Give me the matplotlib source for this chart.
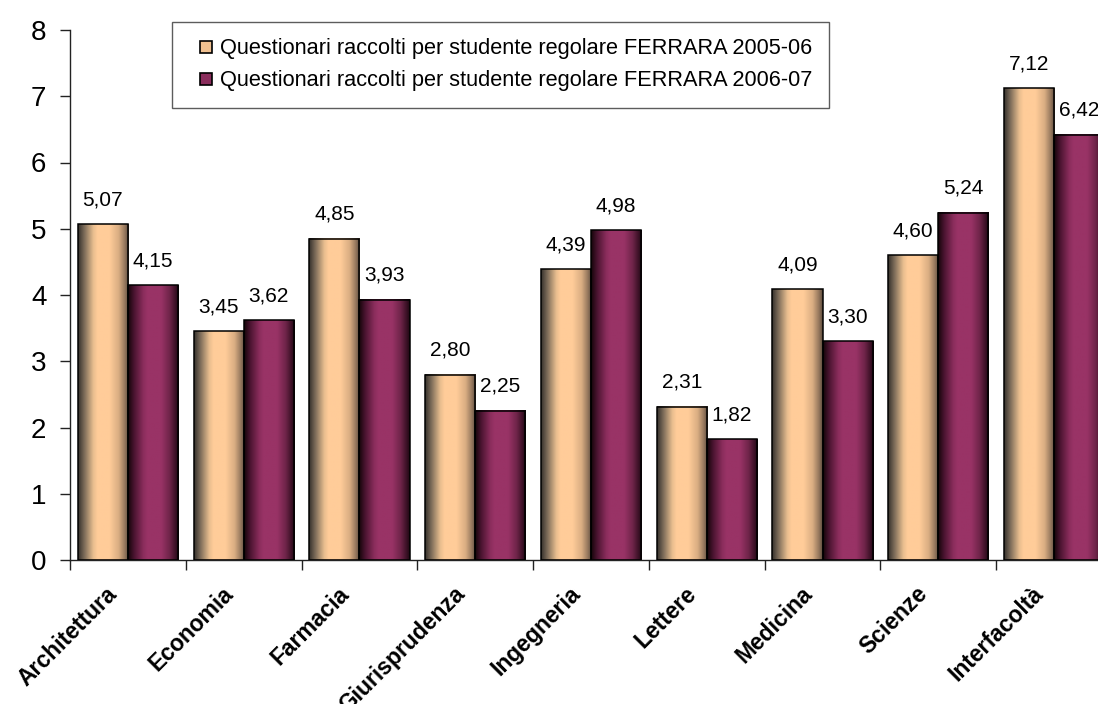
import numpy as np
import matplotlib.pyplot as plt
from matplotlib.colors import LinearSegmentedColormap
from matplotlib.patches import Rectangle, Patch
from matplotlib.legend_handler import HandlerPatch
import matplotlib.transforms as mtransforms

plt.rcParams['font.family'] = ['Liberation Sans', 'DejaVu Sans']

categories = ["Architettura", "Economia", "Farmacia", "Giurisprudenza", "Ingegneria",
              "Lettere", "Medicina", "Scienze", "Interfacoltà"]
values_0506 = [5.07, 3.45, 4.85, 2.80, 4.39, 2.31, 4.09, 4.60, 7.12]
values_0607 = [4.15, 3.62, 3.93, 2.25, 4.98, 1.82, 3.30, 5.24, 6.42]
series_labels = ["Questionari raccolti per studente regolare FERRARA 2005-06",
                 "Questionari raccolti per studente regolare FERRARA 2006-07"]

# horizontal shading of the bars: dark edges, light middle
cmap_orange = LinearSegmentedColormap.from_list("or", [
    (0.0, "#34302b"), (0.12, "#7a6a58"), (0.3, "#e8bd8e"), (0.38, "#ffcc99"),
    (0.62, "#ffcc99"), (0.8, "#d9ad82"), (0.92, "#96785e"), (1.0, "#5a4a3c")])
cmap_purple = LinearSegmentedColormap.from_list("pu", [
    (0.0, "#140509"), (0.12, "#4a1430"), (0.3, "#8a2d5c"), (0.38, "#993366"),
    (0.65, "#993366"), (0.82, "#6e2449"), (0.93, "#3e1228"), (1.0, "#1e0812")])

fig = plt.figure(figsize=(10.98, 7.04), dpi=100)
ax = fig.add_axes([70 / 1098, 144 / 704, (1112 - 70) / 1098, (560 - 30) / 704])

x = np.arange(len(categories))
w = 0.433
grad = np.linspace(0, 1, 256).reshape(1, -1)
lab_off = mtransforms.offset_copy(ax.transData, fig=fig, x=0, y=19, units='dots')


def draw_bars(xs, vals, cmap):
    for xi, v in zip(xs, vals):
        ax.imshow(grad, cmap=cmap, extent=[xi - w / 2, xi + w / 2, 0, v],
                  aspect='auto', zorder=2, interpolation='bilinear')
        ax.add_patch(Rectangle((xi - w / 2, 0), w, v, fill=False,
                               edgecolor='black', linewidth=1.1, zorder=3))
        ax.text(xi, v, f"{v:.2f}".replace('.', ','), transform=lab_off,
                ha='center', va='baseline', fontsize=15, zorder=4)


draw_bars(x - w / 2, values_0506, cmap_orange)
draw_bars(x + w / 2, values_0607, cmap_purple)

ax.set_xlim(-0.5, len(categories) - 0.5)
ax.set_ylim(0, 8)

for s in ['top', 'right']:
    ax.spines[s].set_visible(False)
for s in ['left', 'bottom']:
    ax.spines[s].set_color('#222222')
    ax.spines[s].set_linewidth(1.0)

ax.set_yticks(range(0, 9))
ax.set_yticklabels([str(i) for i in range(0, 9)], fontsize=20)
ax.tick_params(axis='y', length=7, width=1, color='#222222', pad=10)

ax.set_xticks(np.arange(-0.5, len(categories), 1.0), minor=True)
ax.set_xticks(x)
ax.set_xticklabels(categories, fontsize=16.5, fontweight='bold', rotation=45,
                   ha='right', va='center', rotation_mode='anchor')
ax.tick_params(axis='x', which='major', length=0, pad=22)
ax.tick_params(axis='x', which='minor', length=7, width=1, color='#222222')
shift = mtransforms.ScaledTranslation(-14 / 100, 0, fig.dpi_scale_trans)
for lbl in ax.get_xticklabels():
    lbl.set_transform(lbl.get_transform() + shift)


class SquareHandler(HandlerPatch):
    # small square pushed to the right end of the handle box
    def create_artists(self, legend, orig_handle, xdescent, ydescent,
                       width, height, fontsize, trans):
        side = 0.56 * fontsize
        p = Rectangle((width - side - xdescent, (height - side) / 2 - ydescent), side, side,
                      facecolor=orig_handle.get_facecolor(), edgecolor='black',
                      linewidth=1.2, transform=trans)
        return [p]


handles = [Patch(facecolor='#f0c090'), Patch(facecolor='#8a2d5c')]
leg = fig.legend(handles, series_labels, loc='upper left',
                 bbox_to_anchor=(172 / 1098, 1 - 22 / 704), fontsize=15.7,
                 frameon=True, fancybox=False, handlelength=1.1, handleheight=0.7,
                 handletextpad=0.35, labelspacing=0.5, borderpad=0.75, borderaxespad=0,
                 handler_map={Patch: SquareHandler()})
leg.get_frame().set_edgecolor('#333333')
leg.get_frame().set_linewidth(1.0)

fig.savefig("out.png", dpi=100)
